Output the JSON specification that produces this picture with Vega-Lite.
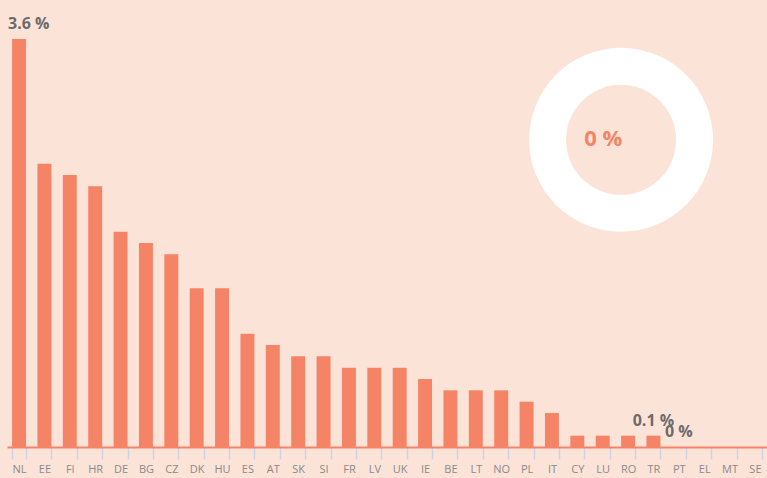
{
  "$schema": "https://vega.github.io/schema/vega-lite/v6.json",
  "autosize": "none",
  "width": 760,
  "height": 408,
  "padding": {"left": 7, "top": 39, "right": 0, "bottom": 31},
  "background": "#FCE3D8",
  "config": {"view": {"stroke": null}, "font": "Open Sans"},
  "data": {
    "values": [
      {"country": "NL", "value": 3.6, "label": "3.6 %"},
      {"country": "EE", "value": 2.5, "label": ""},
      {"country": "FI", "value": 2.4, "label": ""},
      {"country": "HR", "value": 2.3, "label": ""},
      {"country": "DE", "value": 1.9, "label": ""},
      {"country": "BG", "value": 1.8, "label": ""},
      {"country": "CZ", "value": 1.7, "label": ""},
      {"country": "DK", "value": 1.4, "label": ""},
      {"country": "HU", "value": 1.4, "label": ""},
      {"country": "ES", "value": 1.0, "label": ""},
      {"country": "AT", "value": 0.9, "label": ""},
      {"country": "SK", "value": 0.8, "label": ""},
      {"country": "SI", "value": 0.8, "label": ""},
      {"country": "FR", "value": 0.7, "label": ""},
      {"country": "LV", "value": 0.7, "label": ""},
      {"country": "UK", "value": 0.7, "label": ""},
      {"country": "IE", "value": 0.6, "label": ""},
      {"country": "BE", "value": 0.5, "label": ""},
      {"country": "LT", "value": 0.5, "label": ""},
      {"country": "NO", "value": 0.5, "label": ""},
      {"country": "PL", "value": 0.4, "label": ""},
      {"country": "IT", "value": 0.3, "label": ""},
      {"country": "CY", "value": 0.1, "label": ""},
      {"country": "LU", "value": 0.1, "label": ""},
      {"country": "RO", "value": 0.1, "label": ""},
      {"country": "TR", "value": 0.1, "label": "0.1 %"},
      {"country": "PT", "value": 0.0, "label": "0 %"},
      {"country": "EL", "value": 0.0, "label": ""},
      {"country": "MT", "value": 0.0, "label": ""},
      {"country": "SE", "value": 0.0, "label": ""}
    ]
  },
  "layer": [
    {
      "mark": {"type": "bar", "color": "#F58466"},
      "encoding": {
        "x": {
          "field": "country",
          "type": "nominal",
          "sort": null,
          "scale": {"paddingInner": 0.45, "paddingOuter": 0.2},
          "axis": {
            "title": null,
            "labelAngle": 0,
            "domainColor": "#F58466",
            "domainWidth": 2,
            "tickColor": "#C9D3EC",
            "tickSize": 12,
            "tickWidth": 1.5,
            "tickBand": "extent",
            "labelColor": "#8A8A8A",
            "labelFontSize": 11,
            "labelPadding": 4
          }
        },
        "y": {
          "field": "value",
          "type": "quantitative",
          "scale": {"domain": [0, 3.6], "nice": false},
          "axis": null
        }
      }
    },
    {
      "transform": [{"filter": "datum.country !== 'NL'"}],
      "mark": {"type": "text", "baseline": "bottom", "dy": -7, "fontSize": 16, "fontWeight": "bold", "color": "#6B6B6B"},
      "encoding": {
        "x": {"field": "country", "type": "nominal", "sort": null},
        "y": {"field": "value", "type": "quantitative"},
        "text": {"field": "label"}
      }
    },
    {
      "transform": [{"filter": "datum.country === 'NL'"}],
      "mark": {"type": "text", "baseline": "bottom", "align": "left", "dx": -11, "dy": -7, "fontSize": 16, "fontWeight": "bold", "color": "#6B6B6B"},
      "encoding": {
        "x": {"field": "country", "type": "nominal", "sort": null},
        "y": {"field": "value", "type": "quantitative"},
        "text": {"field": "label"}
      }
    },
    {
      "data": {"values": [{"part": "share", "pct": 0}, {"part": "rest", "pct": 100}]},
      "mark": {"type": "arc", "outerRadius": 92, "innerRadius": 55},
      "encoding": {
        "x": {"datum": "RO", "type": "nominal", "bandPosition": 0},
        "y": {"datum": 2.71, "type": "quantitative"},
        "theta": {"field": "pct", "type": "quantitative"},
        "color": {"field": "part", "type": "nominal", "scale": {"domain": ["share", "rest"], "range": ["#F58466", "#FFFFFF"]}, "legend": null}
      }
    },
    {
      "data": {"values": [{"label": "0 %"}]},
      "mark": {"type": "text", "baseline": "middle", "align": "center", "fontSize": 22, "fontWeight": "bold", "color": "#F58466"},
      "encoding": {
        "x": {"datum": "LU", "type": "nominal", "bandPosition": 0.55},
        "y": {"datum": 2.72, "type": "quantitative"},
        "text": {"field": "label"}
      }
    }
  ]
}
